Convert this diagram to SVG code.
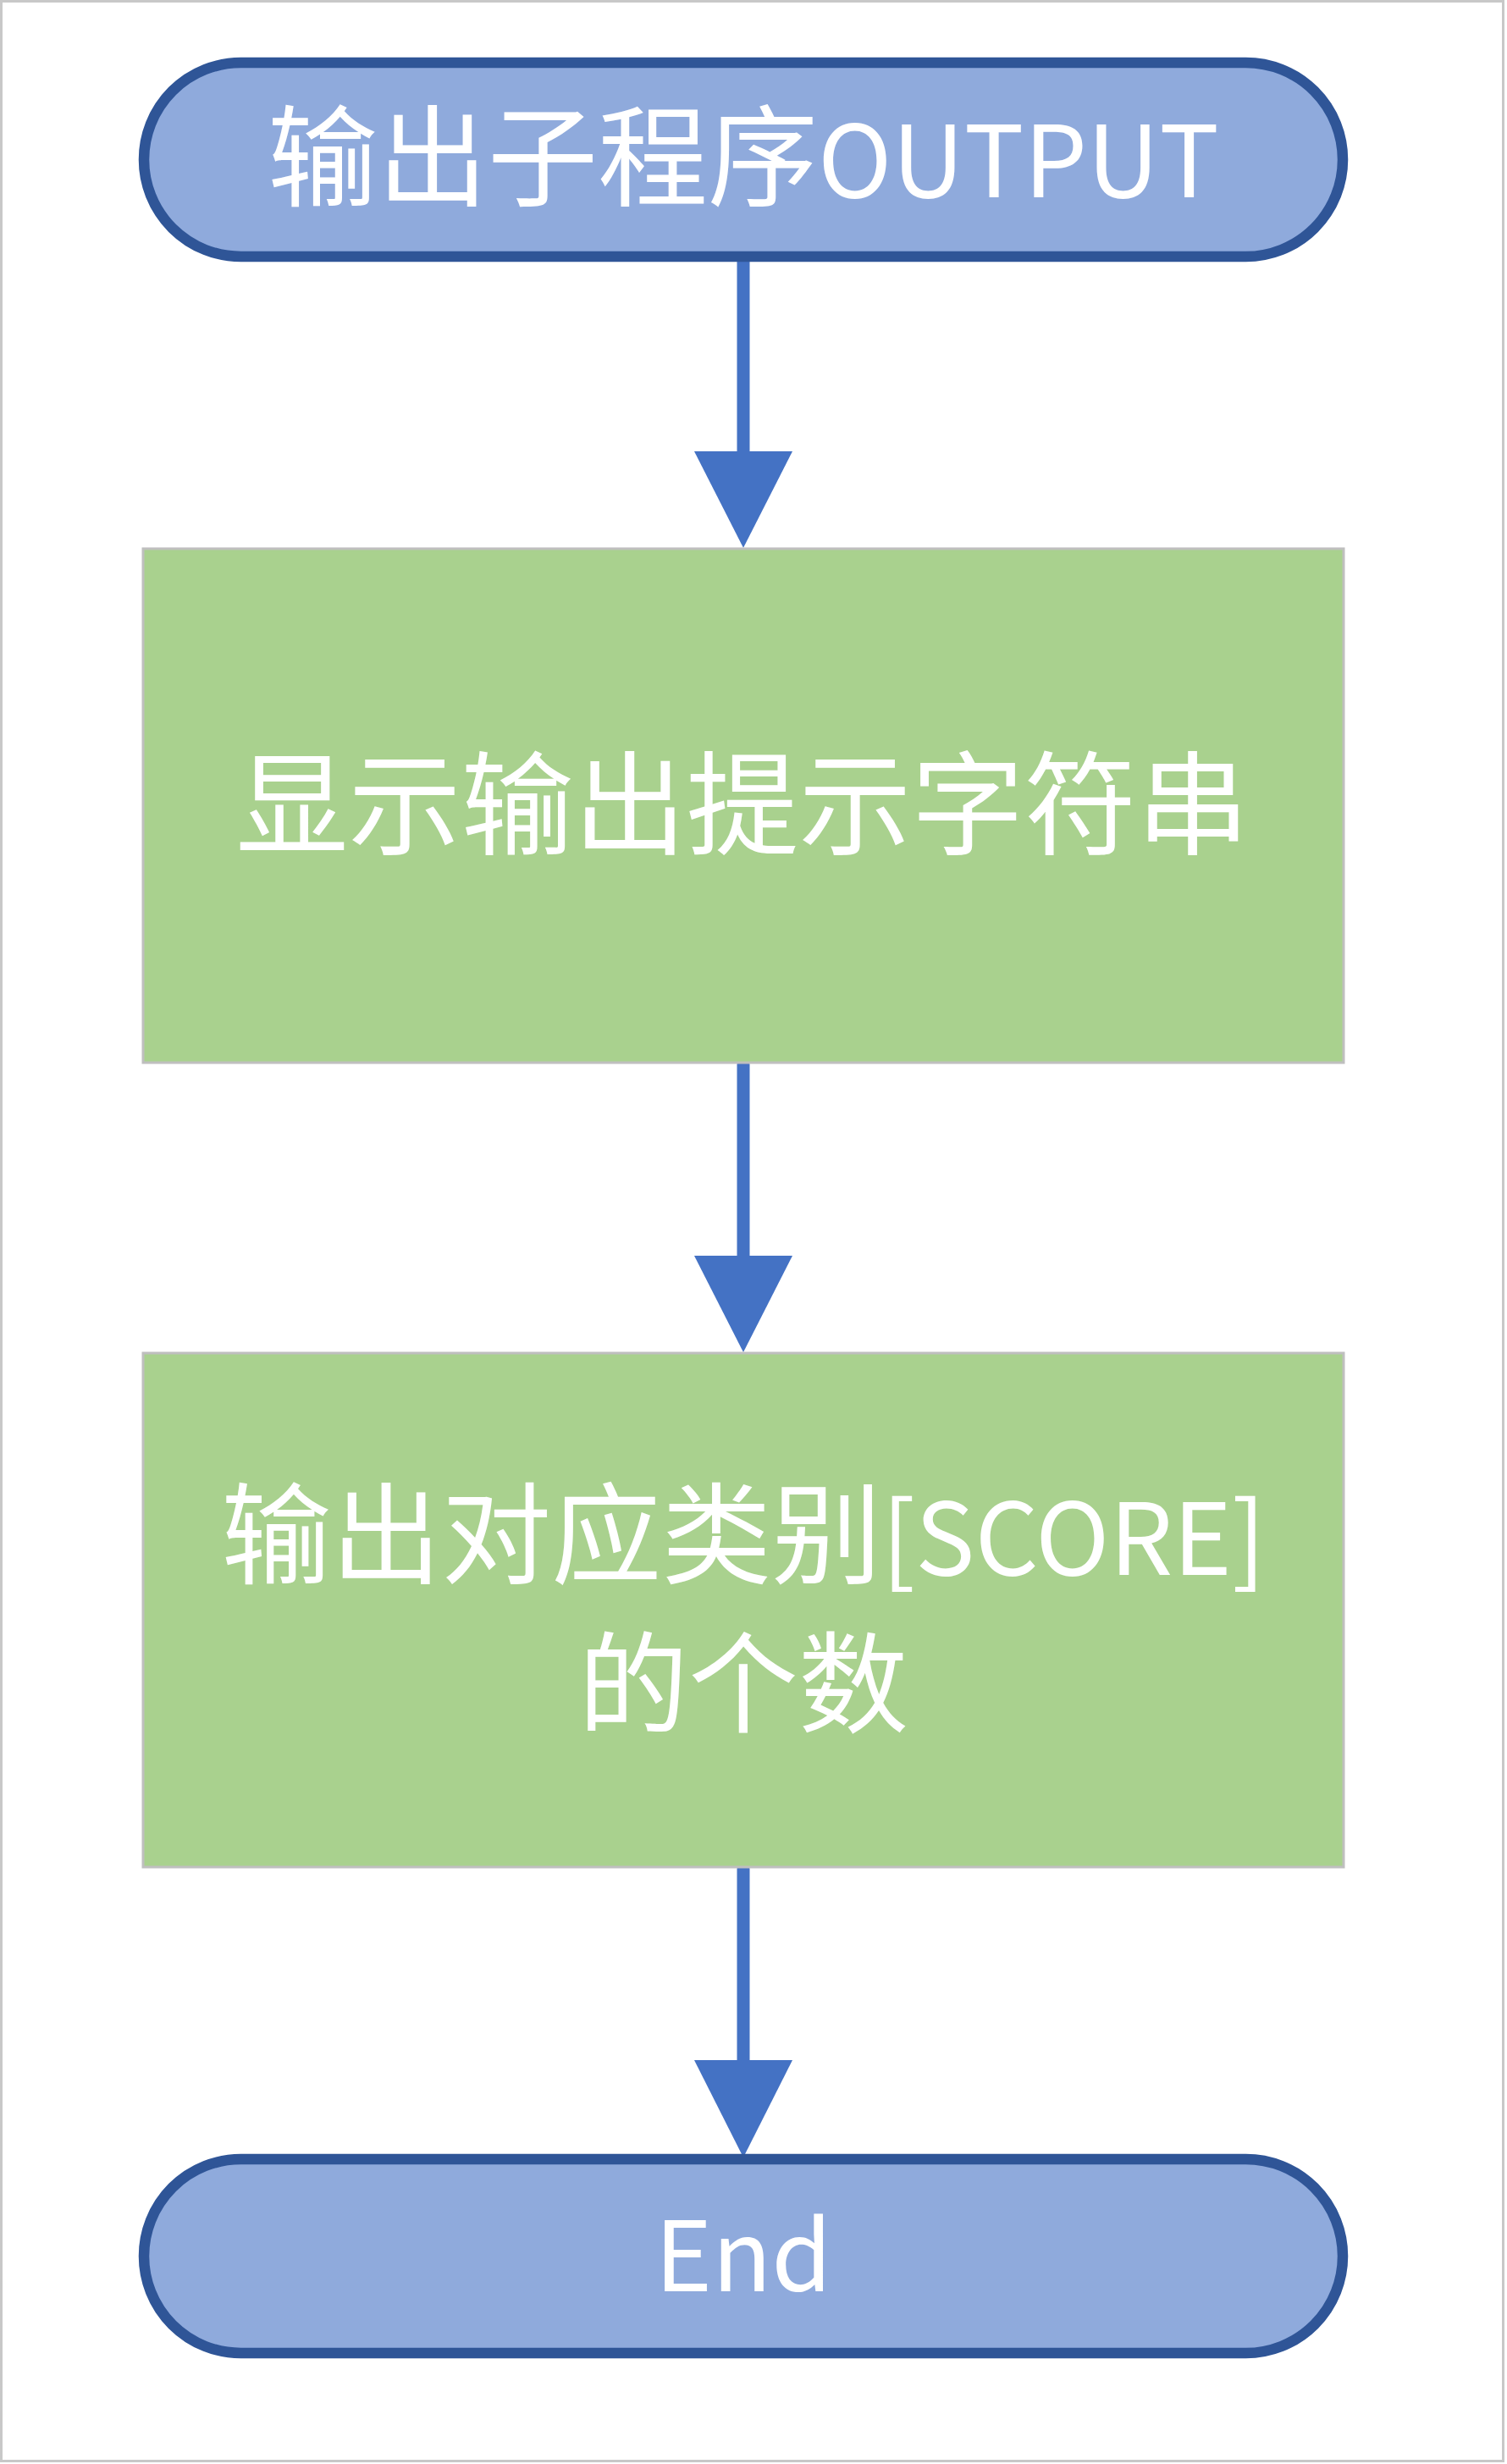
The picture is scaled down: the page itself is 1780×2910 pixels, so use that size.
<svg xmlns="http://www.w3.org/2000/svg" width="1780" height="2910" viewBox="0 0 1780 2910">
<style>
.term{fill:#8faadc;stroke:#2f5597;stroke-width:12.5}
.proc{fill:#a9d18e;stroke:#bfbfbf;stroke-width:3}
.lbl{fill:#ffffff;font-family:"Noto Sans CJK SC","Noto Sans",sans-serif;font-size:130px;text-anchor:middle}
.lat{font-size:118px}
.line{stroke:#4472c4;stroke-width:15;stroke-linecap:round;fill:none}
.head{fill:#4472c4}
</style>
<rect x="1.5" y="1.5" width="1774" height="2905" fill="#ffffff" stroke="#c8c8c8" stroke-width="3"/>
<g id="connectors">
<line class="line" x1="878" y1="305" x2="878" y2="540"/>
<polygon class="head" points="820,533 936,533 878,647"/>
<line class="line" x1="878" y1="1257" x2="878" y2="1490"/>
<polygon class="head" points="820,1483 936,1483 878,1597"/>
<line class="line" x1="878" y1="2207" x2="878" y2="2440"/>
<polygon class="head" points="820,2433 936,2433 878,2548"/>
</g>
<g id="start">
<rect class="term" x="170" y="74" width="1416" height="229" rx="114.5" ry="114.5"/>
<text class="lbl" x="878" y="233">输出子程序<tspan class="lat">OUTPUT</tspan></text>
</g>
<g id="prompt">
<rect class="proc" x="169" y="648" width="1418" height="607"/>
<text class="lbl" x="877" y="999" style="font-size:133px">显示输出提示字符串</text>
</g>
<g id="count">
<rect class="proc" x="169" y="1598" width="1418" height="607"/>
<text class="lbl" x="878" y="1860">输出对应类别<tspan class="lat">[SCORE]</tspan></text>
<text class="lbl" x="878" y="2036">的个数</text>
</g>
<g id="end">
<rect class="term" x="170" y="2550" width="1416" height="229" rx="114.5" ry="114.5"/>
<text class="lbl lat" x="878" y="2706" style="font-size:115px">End</text>
</g>
</svg>
